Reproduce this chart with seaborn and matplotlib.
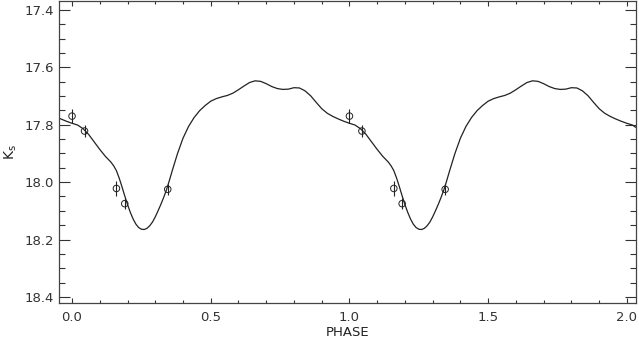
import numpy as np
import pandas as pd
import matplotlib
matplotlib.use("Agg")
import matplotlib.pyplot as plt
import seaborn as sns
from matplotlib.ticker import MultipleLocator

# model light curve, one cycle (phase, Ks)
curve_phase = [0.00, 0.02, 0.04, 0.06, 0.08, 0.10, 0.12, 0.14, 0.15, 0.16,
               0.17, 0.18, 0.19, 0.20, 0.21, 0.22, 0.23, 0.24, 0.25, 0.26,
               0.27, 0.28, 0.29, 0.30, 0.31, 0.32, 0.33, 0.34, 0.35, 0.36,
               0.38, 0.40, 0.42, 0.44, 0.46, 0.48, 0.50, 0.52, 0.54, 0.56,
               0.58, 0.60, 0.62, 0.64, 0.66, 0.68, 0.70, 0.72, 0.74, 0.76,
               0.78, 0.80, 0.82, 0.84, 0.86, 0.88, 0.90, 0.92, 0.94, 0.96,
               0.98, 1.00]
curve_mag = [17.795, 17.801, 17.814, 17.834, 17.860, 17.886, 17.910, 17.930,
             17.943, 17.960, 17.986, 18.016, 18.048, 18.078, 18.105, 18.128,
             18.146, 18.158, 18.164, 18.165, 18.161, 18.152, 18.139, 18.121,
             18.100, 18.078, 18.054, 18.028, 17.997, 17.964, 17.901, 17.847,
             17.806, 17.775, 17.751, 17.733, 17.718, 17.709, 17.703, 17.698,
             17.690, 17.678, 17.665, 17.653, 17.647, 17.649, 17.657, 17.667,
             17.674, 17.677, 17.676, 17.671, 17.672, 17.682, 17.699, 17.722,
             17.744, 17.760, 17.771, 17.780, 17.788, 17.795]

# observed points, one cycle
obs_phase = [0.000, 0.045, 0.160, 0.190, 0.345]
obs_mag = [17.770, 17.822, 18.022, 18.075, 18.025]
obs_err = [0.025, 0.020, 0.025, 0.020, 0.020]

curve = pd.concat([pd.DataFrame({"phase": np.array(curve_phase) + c,
                                 "mag": curve_mag}) for c in [-1, 0, 1, 2]])
obs = pd.concat([pd.DataFrame({"phase": np.array(obs_phase) + c,
                               "mag": obs_mag, "err": obs_err}) for c in [0, 1]])

sns.set_style("ticks")
plt.rcParams["font.family"] = ["DejaVu Sans"]

fig = plt.figure(figsize=(6.39, 3.41), dpi=100)
ax = fig.add_axes([59 / 639, 1 - 303 / 341, 577 / 639, 302 / 341])

sns.lineplot(data=curve, x="phase", y="mag", color="#222222", lw=0.9,
             sort=True, estimator=None, ax=ax)
ax.errorbar(obs["phase"], obs["mag"], yerr=obs["err"], fmt="none",
            ecolor="#222222", elinewidth=0.8, capsize=0)
sns.scatterplot(data=obs, x="phase", y="mag", marker="o", s=22,
                facecolor="none", edgecolor="#222222", linewidth=0.7, ax=ax)

ax.set_xlim(-0.047, 2.033)
ax.set_ylim(18.421, 17.369)
ax.xaxis.set_major_locator(MultipleLocator(0.5))
ax.xaxis.set_minor_locator(MultipleLocator(0.1))
ax.yaxis.set_major_locator(MultipleLocator(0.2))
ax.yaxis.set_minor_locator(MultipleLocator(0.05))
ax.tick_params(axis="both", which="both", direction="in", top=True, right=True,
               colors="#333333", labelcolor="#333333", labelsize=9.5, width=0.8)
ax.tick_params(axis="y", which="major", length=8)
ax.tick_params(axis="y", which="minor", length=4)
ax.tick_params(axis="x", which="major", length=3.5, pad=6)
ax.tick_params(axis="x", which="minor", length=2.5)
for s in ax.spines.values():
    s.set_linewidth(0.9)
    s.set_color("#444444")

ax.set_xlabel("PHASE", fontsize=9.5, color="#222222", labelpad=1)
ax.set_ylabel("K$_\\mathregular{s}$", fontsize=10, color="#222222")
ax.yaxis.set_label_coords(-0.07, 0.5)

fig.savefig("out.png", dpi=100)
